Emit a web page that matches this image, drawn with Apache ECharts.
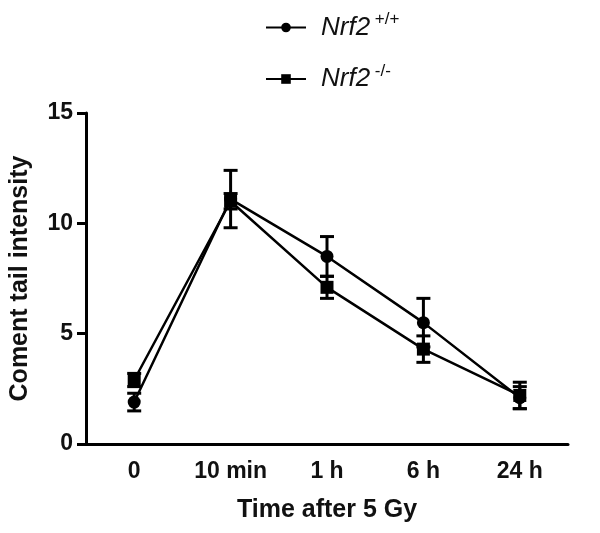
<!DOCTYPE html>
<html>
<head>
<meta charset="utf-8">
<script src="https://cdn.jsdelivr.net/npm/echarts@6/dist/echarts.min.js"></script>
<style>
  html, body { margin: 0; padding: 0; background: #fff; }
  #chart { width: 600px; height: 533px; }
</style>
</head>
<body>
<div id="chart"></div>
<script>
var categories = ['0', '10 min', '1 h', '6 h', '24 h'];
var wtMean = [1.9, 11.1, 8.5, 5.5, 2.1];
var wtErr = [0.4, 1.3, 0.9, 1.1, 0.5];
var koMean = [2.9, 11.0, 7.1, 4.3, 2.2];
var koErr = [0.3, 0.35, 0.5, 0.6, 0.6];
var yTicks = [0, 5, 10, 15];

var chart = echarts.init(document.getElementById('chart'));

// error bars as a custom series (value +/- err, with caps)
function errorSeries(means, errs) {
  return {
    type: 'custom',
    z: 5,
    data: means.map(function (m, i) { return [i, m - errs[i], m + errs[i]]; }),
    renderItem: function (params, api) {
      var lo = api.coord([api.value(0), api.value(1)]);
      var hi = api.coord([api.value(0), api.value(2)]);
      var w = 7;
      var st = { stroke: '#000', lineWidth: 3 };
      return {
        type: 'group',
        children: [
          { type: 'line', shape: { x1: lo[0], y1: lo[1], x2: hi[0], y2: hi[1] }, style: st },
          { type: 'line', shape: { x1: lo[0] - w, y1: lo[1], x2: lo[0] + w, y2: lo[1] }, style: st },
          { type: 'line', shape: { x1: hi[0] - w, y1: hi[1], x2: hi[0] + w, y2: hi[1] }, style: st }
        ]
      };
    }
  };
}

var lineStyle = { color: '#000', width: 2.5 };
var font = 'Liberation Sans';

chart.setOption({
  backgroundColor: '#fff',
  animation: false,
  legend: {
    orient: 'vertical',
    left: 260,
    top: 6,
    itemGap: 22,
    itemWidth: 40,
    itemHeight: 12,
    data: ['wt', 'ko'],
    formatter: function (name) {
      return name === 'wt' ? '{n|Nrf2}{s| +/+}' : '{n|Nrf2}{s| -/-}';
    },
    textStyle: {
      padding: [0, 0, 0, 10],
      rich: {
        n: { fontFamily: font, fontStyle: 'italic', fontSize: 26, color: '#111' },
        s: { fontFamily: font, fontSize: 17, color: '#111', padding: [0, 0, 16, 0] }
      }
    }
  },
  grid: { left: 86, right: 32, top: 113, bottom: 89, containLabel: false, outerBoundsMode: 'none' },
  xAxis: {
    type: 'category',
    data: categories,
    boundaryGap: true,
    name: 'Time after 5 Gy',
    nameLocation: 'middle',
    nameGap: 54,
    nameTextStyle: { fontFamily: font, fontWeight: 'bold', fontSize: 25, color: '#111' },
    axisLine: { lineStyle: { color: '#000', width: 3 } },
    axisTick: { alignWithLabel: true, length: 9, lineStyle: { color: '#000', width: 3 } },
    axisLabel: { fontFamily: font, fontWeight: 'bold', fontSize: 23, color: '#111', margin: 16 },
    splitLine: { show: false }
  },
  yAxis: {
    type: 'value',
    min: yTicks[0],
    max: yTicks[yTicks.length - 1],
    interval: 5,
    name: 'Coment tail intensity',
    nameLocation: 'middle',
    nameGap: 53,
    nameTextStyle: { fontFamily: font, fontWeight: 'bold', fontSize: 25, color: '#111' },
    axisLine: { show: true, lineStyle: { color: '#000', width: 3 } },
    axisTick: { show: true, length: 9, lineStyle: { color: '#000', width: 3 } },
    axisLabel: { fontFamily: font, fontWeight: 'bold', fontSize: 23, color: '#111', margin: 13 },
    splitLine: { show: false }
  },
  series: [
    {
      name: 'wt',
      type: 'line',
      data: wtMean,
      symbol: 'circle',
      symbolSize: 13,
      itemStyle: { color: '#000' },
      lineStyle: lineStyle,
      z: 3
    },
    {
      name: 'ko',
      type: 'line',
      data: koMean,
      symbol: 'rect',
      symbolSize: 13,
      itemStyle: { color: '#000' },
      lineStyle: lineStyle,
      z: 3
    },
    errorSeries(wtMean, wtErr),
    errorSeries(koMean, koErr)
  ]
});
</script>
</body>
</html>
